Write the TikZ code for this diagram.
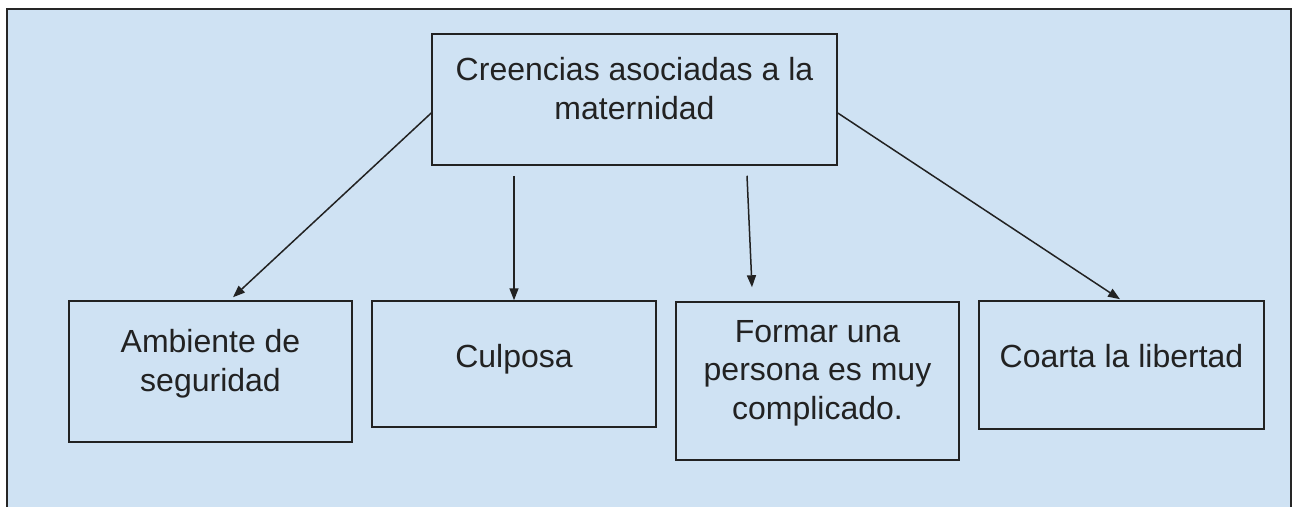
\documentclass[tikz,border=0pt]{standalone}
\usepackage{fontspec}
\setmainfont{Liberation Sans}
\usetikzlibrary{arrows.meta}
\definecolor{bgblue}{HTML}{CFE2F3}
\definecolor{linec}{HTML}{222222}
\begin{document}
\begin{tikzpicture}[x=1pt,y=-1pt,
  box/.style={draw=linec, line width=1.5pt, inner sep=0pt},
  txt/.style={font=\fontsize{32}{38.3}\selectfont, align=center, inner sep=0pt, anchor=base, text=linec},
  arr/.style={draw=linec, line width=1.5pt, -{Triangle[length=12pt,width=9pt]}}]
\useasboundingbox (0,0) rectangle (1298,506);
\clip (0,0) rectangle (1298,506);
\draw[fill=bgblue, draw=black!85, line width=2.2pt] (7,9) rectangle (1291,530);
% boxes
\node[box, minimum width=405pt, minimum height=131pt] (top) at (634.5,99.5) {};
\node[box, minimum width=283pt, minimum height=141pt] (amb) at (210.5,371.5) {};
\node[box, minimum width=284pt, minimum height=126pt] (cul) at (514,364) {};
\node[box, minimum width=283pt, minimum height=158pt] (for) at (817.5,381) {};
\node[box, minimum width=285pt, minimum height=128pt] (coa) at (1121.5,365) {};
% texts (anchor = baseline of the last line)
\node[txt] (ttop) at (634.5,119) {Creencias asociadas a la\\maternidad};
\node[txt] (tamb) at (210.5,391) {Ambiente de\\seguridad};
\node[txt] (tcul) at (514,367) {Culposa};
\node[txt] (tfor) at (817.5,419) {Formar una\\persona es muy\\complicado.};
\node[txt] (tcoa) at (1121.5,367) {Coarta la libertad};
% arrows
\draw[arr] ([yshift=-13.5pt]top.west) -- ([xshift=22.5pt,yshift=3pt]amb.north);
\draw[arr] ([yshift=-10pt]top.south -| cul.north) -- (cul.north);
\draw[arr] ([xshift=112.5pt,yshift=-10pt]top.south) -- ([xshift=-65.5pt,yshift=14pt]for.north);
\draw[arr] ([yshift=-13.5pt]top.east) -- ([xshift=-1.5pt,yshift=1pt]coa.north);
\end{tikzpicture}
\end{document}
